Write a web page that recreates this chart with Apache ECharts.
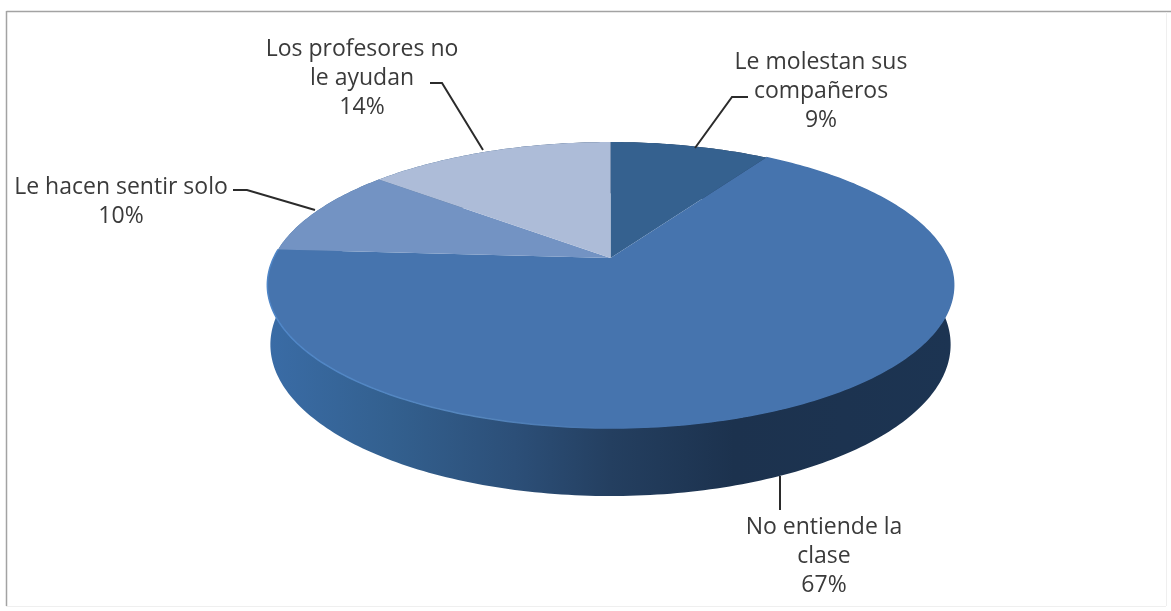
<!DOCTYPE html>
<html><head><meta charset="utf-8">
<style>html,body{margin:0;padding:0;background:#fff}#c{width:1171px;height:611px}</style>
<script src="https://cdn.jsdelivr.net/npm/echarts@6/dist/echarts.min.js"></script>
</head><body><div id="c"></div>
<script>
const categories = ['Le molestan sus\ncompañeros', 'No entiende la\nclase', 'Le hacen sentir solo', 'Los profesores no\nle ayudan'];
const values = [9, 67, 10, 14];
const sliceColors = ['#35618f', '#4674ae', '#7393c3', '#adbcd8'];

// projection of the tilted disc
const CX = 610.5, APEX_Y = 258, K = 0.189, B = 337, A = 137.9;
const BASE_Y = 316, BASE_A = 146, BASE_B = 334;
const project = (t, plane) => {
  const X = Math.sin(t), Y = Math.cos(t), d = 1 + K * Y;
  return plane === 'base'
    ? [CX + BASE_B * X / d, BASE_Y - BASE_A * Y / d]
    : [CX + B * X / d, APEX_Y - A * Y / d];
};
const total = values.reduce((a, b) => a + b, 0);
const range = i => {
  const before = values.slice(0, i).reduce((a, b) => a + b, 0);
  return [before / total * 2 * Math.PI, (before + values[i]) / total * 2 * Math.PI];
};
const arc = (a, b, plane) => {
  const n = Math.max(2, Math.ceil((b - a) * 60)), out = [];
  for (let j = 0; j <= n; j++) out.push(project(a + (b - a) * j / n, plane));
  return out;
};

const labelAnchors = [[821, 61.5], [824, 526.5], [121, 187], [362, 49]];
const leaders = [
  [[748, 97], [732, 97], [695, 148]],
  [[780, 476], [780, 510]],
  [[233, 190], [247, 190], [315, 210]],
  [[430, 83], [442, 83], [483, 150]]
];

const wallFill = new echarts.graphic.LinearGradient(267, 0, 954, 0, [
  {offset: 0, color: '#3a6ca6'},
  {offset: 0.18, color: '#33608f'},
  {offset: 0.36, color: '#2c4f78'},
  {offset: 0.5, color: '#243f60'},
  {offset: 0.68, color: '#1c324e'},
  {offset: 1, color: '#1c3452'}
], true);
const rimStroke = new echarts.graphic.LinearGradient(267, 0, 954, 0, [
  {offset: 0, color: '#4f86c8'},
  {offset: 0.3, color: '#5586bd'},
  {offset: 0.5, color: '#4674ae'},
  {offset: 1, color: '#4674ae'}
], true);

const chart = echarts.init(document.getElementById('c'));
chart.setOption({
  animation: false,
  backgroundColor: '#ffffff',
  graphic: [
    {type: 'line', shape: {x1: 6.5, y1: 11.5, x2: 1171, y2: 11.5}, style: {stroke: '#a3a3a3', lineWidth: 1.5}},
    {type: 'line', shape: {x1: 6.5, y1: 11, x2: 6.5, y2: 606}, style: {stroke: '#a3a3a3', lineWidth: 1.5}},
    {type: 'line', shape: {x1: 6, y1: 606.5, x2: 1166, y2: 606.5}, style: {stroke: '#efefef', lineWidth: 1}},
    {type: 'line', shape: {x1: 1166.5, y1: 12, x2: 1166.5, y2: 606}, style: {stroke: '#efefef', lineWidth: 1}}
  ],
  series: [
    {
      type: 'custom', coordinateSystem: 'none', silent: true, data: values.map(v => [v]),
      renderItem: (params) => {
        const [a, b] = range(params.dataIndex);
        const pts = arc(a, b, 'top').concat(arc(a, b, 'base').reverse());
        return {type: 'polygon', shape: {points: pts}, style: {fill: wallFill}};
      }
    },
    {
      type: 'custom', coordinateSystem: 'none', silent: true, data: values.map(v => [v]),
      renderItem: (params, api) => {
        const i = params.dataIndex, [a, b] = range(i);
        const children = [{
          type: 'polygon',
          shape: {points: [[CX, APEX_Y]].concat(arc(a, b, 'top'))},
          style: {fill: sliceColors[i]}
        }];
        if (api.value(0) === Math.max(...values)) {
          children.push({type: 'polyline', shape: {points: arc(a, b, 'top')},
            style: {fill: 'none', stroke: rimStroke, lineWidth: 1.5}});
        }
        return {type: 'group', children};
      }
    },
    {
      type: 'custom', coordinateSystem: 'none', silent: true, data: values.map(v => [v]),
      renderItem: (params, api) => {
        const i = params.dataIndex;
        return {type: 'group', children: [
          {type: 'polyline', shape: {points: leaders[i]},
            style: {fill: 'none', stroke: '#2b2b2b', lineWidth: 2}},
          {type: 'text', x: labelAnchors[i][0], y: labelAnchors[i][1] - 14,
            style: {text: categories[i] + '\n' + api.value(0) + '%', fill: '#3a3a3a',
              font: '23px "Open Sans", sans-serif', lineHeight: 29, align: 'center', verticalAlign: 'top'}}
        ]};
      }
    }
  ]
});
</script></body></html>
